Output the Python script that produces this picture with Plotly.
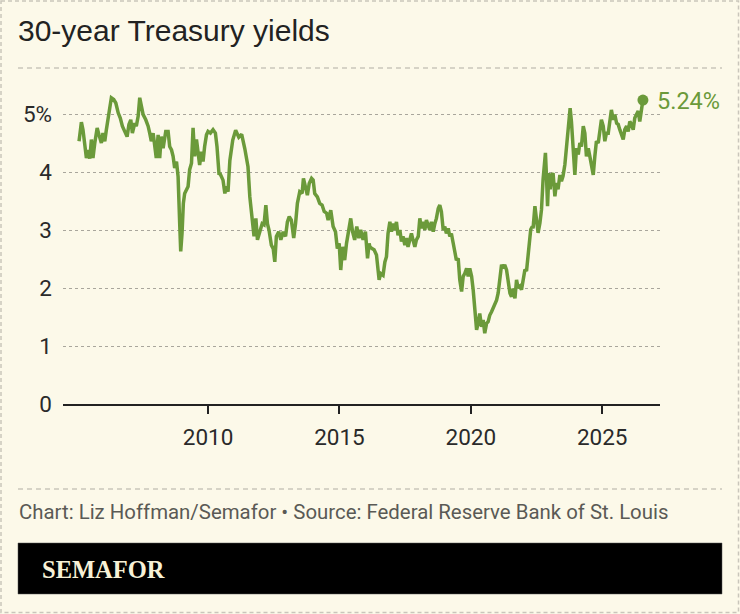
import plotly.graph_objects as go

# ---- Data (decimal year, yield %) ----
years = [
    2005.09, 2005.18, 2005.24, 2005.31, 2005.37, 2005.43, 2005.50, 2005.56, 2005.62, 2005.69,
    2005.78, 2005.85, 2005.94, 2006.00, 2006.07, 2006.13, 2006.23, 2006.32, 2006.41, 2006.49,
    2006.58, 2006.66, 2006.74, 2006.83, 2006.92, 2006.99, 2007.06, 2007.12, 2007.21, 2007.27,
    2007.34, 2007.40, 2007.46, 2007.53, 2007.63, 2007.72, 2007.78, 2007.84, 2007.91, 2007.97,
    2008.03, 2008.10, 2008.16, 2008.22, 2008.29, 2008.39, 2008.48, 2008.54, 2008.61, 2008.67,
    2008.73, 2008.80, 2008.86, 2008.92, 2008.96, 2009.01, 2009.06, 2009.11, 2009.18, 2009.24,
    2009.30, 2009.37, 2009.43, 2009.49, 2009.56, 2009.62, 2009.68, 2009.75, 2009.81, 2009.87,
    2009.94, 2010.00, 2010.09, 2010.19, 2010.28, 2010.34, 2010.42, 2010.45, 2010.57, 2010.64,
    2010.70, 2010.76, 2010.83, 2010.94, 2011.05, 2011.17, 2011.28, 2011.40, 2011.47, 2011.52,
    2011.59, 2011.68, 2011.75, 2011.82, 2011.88, 2011.97, 2012.06, 2012.13, 2012.20, 2012.26,
    2012.32, 2012.41, 2012.48, 2012.54, 2012.60, 2012.69, 2012.77, 2012.86, 2012.95, 2013.02,
    2013.09, 2013.17, 2013.26, 2013.33, 2013.40, 2013.49, 2013.58, 2013.63, 2013.71, 2013.78,
    2013.85, 2013.94, 2014.00, 2014.06, 2014.16, 2014.25, 2014.34, 2014.42, 2014.51, 2014.57,
    2014.67, 2014.76, 2014.85, 2014.92, 2014.99, 2015.05, 2015.12, 2015.20, 2015.27, 2015.36,
    2015.43, 2015.50, 2015.58, 2015.66, 2015.74, 2015.81, 2015.90, 2015.99, 2016.07, 2016.13,
    2016.16, 2016.24, 2016.32, 2016.41, 2016.47, 2016.51, 2016.57, 2016.66, 2016.73, 2016.79,
    2016.85, 2016.92, 2016.98, 2017.04, 2017.11, 2017.17, 2017.23, 2017.30, 2017.36, 2017.42,
    2017.49, 2017.55, 2017.61, 2017.68, 2017.74, 2017.80, 2017.87, 2017.93, 2018.00, 2018.06,
    2018.12, 2018.19, 2018.25, 2018.31, 2018.38, 2018.44, 2018.50, 2018.57, 2018.63, 2018.69,
    2018.76, 2018.82, 2018.88, 2018.95, 2019.01, 2019.07, 2019.14, 2019.20, 2019.26, 2019.33,
    2019.39, 2019.45, 2019.52, 2019.58, 2019.65, 2019.71, 2019.77, 2019.84, 2019.90, 2019.96,
    2020.03, 2020.09, 2020.15, 2020.22, 2020.28, 2020.34, 2020.41, 2020.47, 2020.53, 2020.60,
    2020.66, 2020.72, 2020.79, 2020.85, 2020.91, 2020.98, 2021.04, 2021.10, 2021.17, 2021.23,
    2021.29, 2021.36, 2021.42, 2021.49, 2021.55, 2021.61, 2021.68, 2021.74, 2021.80, 2021.87,
    2021.93, 2021.99, 2022.06, 2022.12, 2022.18, 2022.25, 2022.28, 2022.34, 2022.37, 2022.44,
    2022.50, 2022.56, 2022.63, 2022.69, 2022.75, 2022.79, 2022.84, 2022.88, 2022.92, 2022.97,
    2023.02, 2023.07, 2023.13, 2023.20, 2023.26, 2023.32, 2023.39, 2023.45, 2023.51, 2023.58,
    2023.64, 2023.68, 2023.73, 2023.78, 2023.83, 2023.87, 2023.92, 2023.96, 2024.02, 2024.09,
    2024.15, 2024.21, 2024.28, 2024.34, 2024.40, 2024.47, 2024.53, 2024.59, 2024.66, 2024.72,
    2024.78, 2024.85, 2024.91, 2024.97, 2025.04, 2025.10, 2025.16, 2025.23, 2025.29, 2025.35,
    2025.42, 2025.48, 2025.55, 2025.61, 2025.67, 2025.74, 2025.80, 2025.86, 2025.93, 2025.99,
    2026.05, 2026.12, 2026.18, 2026.24, 2026.31, 2026.37, 2026.43, 2026.50, 2026.55,
]
yields = [
    4.53, 4.86, 4.73, 4.50, 4.24, 4.38, 4.23, 4.56, 4.24, 4.50,
    4.76, 4.64, 4.50, 4.67, 4.53, 4.73, 5.07, 5.28, 5.25, 5.19,
    5.02, 4.93, 4.79, 4.70, 4.61, 4.82, 4.90, 4.67, 4.84, 4.79,
    4.96, 5.28, 5.16, 4.99, 4.90, 4.79, 4.67, 4.53, 4.67, 4.38,
    4.24, 4.64, 4.24, 4.61, 4.41, 4.70, 4.70, 4.44, 4.38, 4.27,
    4.07, 4.18, 3.92, 3.12, 2.63, 2.94, 3.46, 3.63, 3.69, 3.75,
    4.04, 4.15, 4.76, 4.27, 4.56, 4.27, 4.12, 4.35, 4.18, 4.44,
    4.64, 4.70, 4.67, 4.73, 4.67, 4.44, 3.95, 3.98, 3.86, 3.63,
    3.75, 3.66, 4.20, 4.55, 4.72, 4.60, 4.65, 4.40, 4.25, 4.09,
    3.57, 3.23, 2.89, 3.20, 2.83, 2.97, 3.11, 3.09, 3.43, 3.11,
    3.00, 2.74, 2.68, 2.45, 2.89, 2.97, 2.83, 2.97, 2.89, 3.14,
    3.23, 3.17, 2.86, 3.11, 3.46, 3.66, 3.63, 3.89, 3.75, 3.60,
    3.80, 3.89, 3.86, 3.63, 3.57, 3.46, 3.43, 3.32, 3.29, 3.17,
    3.34, 3.06, 2.97, 2.68, 2.77, 2.31, 2.71, 2.48, 2.77, 3.00,
    3.20, 2.97, 2.83, 3.06, 2.86, 3.00, 2.83, 2.97, 2.51, 2.77,
    2.71, 2.68, 2.66, 2.57, 2.34, 2.14, 2.25, 2.22, 2.45, 2.54,
    2.94, 3.14, 2.97, 3.11, 3.00, 3.14, 2.91, 3.00, 2.80, 2.89,
    2.74, 2.86, 2.71, 2.83, 2.94, 2.83, 2.71, 2.83, 2.89, 3.20,
    3.03, 3.14, 3.00, 3.17, 3.06, 3.00, 3.14, 2.97, 3.11, 3.20,
    3.37, 3.43, 3.32, 3.00, 3.06, 2.94, 3.03, 2.89, 2.94, 2.80,
    2.63, 2.48, 2.51, 2.14, 1.94, 2.20, 2.25, 2.34, 2.20, 2.34,
    2.20, 1.97, 1.62, 1.28, 1.39, 1.56, 1.33, 1.45, 1.22, 1.39,
    1.42, 1.53, 1.59, 1.65, 1.74, 1.79, 1.91, 2.14, 2.40, 2.34,
    2.40, 2.31, 2.08, 1.91, 1.85, 1.99, 1.82, 2.14, 2.00, 2.03,
    1.97, 2.11, 2.32, 2.29, 2.55, 2.78, 3.01, 3.06, 3.03, 3.41,
    3.21, 2.95, 3.12, 3.35, 3.87, 4.18, 4.33, 3.93, 3.41, 3.98,
    3.70, 3.93, 3.98, 3.58, 3.81, 3.70, 3.95, 3.84, 3.93, 4.13,
    4.39, 4.67, 4.90, 5.10, 4.87, 4.56, 4.21, 3.95, 4.41, 4.30,
    4.50, 4.44, 4.79, 4.67, 4.27, 4.41, 4.27, 4.13, 3.95, 4.27,
    4.53, 4.50, 4.67, 4.90, 4.79, 4.53, 4.67, 4.67, 4.87, 5.07,
    4.90, 4.99, 4.84, 4.82, 4.73, 4.61, 4.56, 4.73, 4.79, 4.70,
    4.87, 4.82, 4.73, 4.93, 4.99, 5.05, 4.87, 5.13, 5.24,
]
x_ticks = [2010, 2015, 2020, 2025]
x_tick_labels = ["2010", "2015", "2020", "2025"]
y_ticks = [0, 1, 2, 3, 4, 5]
y_tick_labels = ["0", "1", "2", "3", "4", "5%"]

title_text = "30-year Treasury yields"
source_text = "Chart: Liz Hoffman/Semafor \u2022 Source: Federal Reserve Bank of St. Louis"
brand_text = "SEMAFOR"
last_label = f"{yields[-1]:.2f}%"

# ---- Styling / layout constants ----
W, H = 740, 614
ML, MR, MT, MB = 63, 80, 80, 210
PW, PH = W - ML - MR, H - MT - MB
BG = "#fcf9e9"
GREEN = "#6b9a3a"
DASH_GRAY = "#c9c6bb"


def px(xp):
    return (xp - ML) / PW


def py(yp):
    return (H - MB - yp) / PH


fig = go.Figure()
fig.add_trace(go.Scatter(
    x=years, y=yields, mode="lines",
    line=dict(color=GREEN, width=3.5), hoverinfo="skip", showlegend=False,
))
fig.add_trace(go.Scatter(
    x=[years[-1]], y=[yields[-1]], mode="markers",
    marker=dict(color=GREEN, size=11), hoverinfo="skip", showlegend=False,
))

shapes = [
    # outer dashed border
    dict(type="rect", xref="paper", yref="paper", x0=px(1), x1=px(738.5), y0=py(1), y1=py(612.5),
         line=dict(color=DASH_GRAY, width=1.5, dash="4px,3px"), layer="below"),
    # line under the title
    dict(type="line", xref="paper", yref="paper", x0=px(18), x1=px(722), y0=py(68), y1=py(68),
         line=dict(color=DASH_GRAY, width=1.3, dash="5px,4px")),
    # line above the footer
    dict(type="line", xref="paper", yref="paper", x0=px(18), x1=px(722), y0=py(489), y1=py(489),
         line=dict(color=DASH_GRAY, width=1.3, dash="5px,4px")),
    # black brand band
    dict(type="rect", xref="paper", yref="paper", x0=px(18), x1=px(722), y0=py(594), y1=py(543),
         fillcolor="#000000", line=dict(color="#555555", width=0.5)),
]

annotations = [
    dict(text=title_text, xref="paper", yref="paper", x=px(16), y=py(49), xanchor="left", yanchor="bottom",
         showarrow=False, font=dict(family="Liberation Sans, Arial", size=30, color="#222222")),
    dict(text=last_label, xref="x", yref="y", x=years[-1], y=yields[-1], xanchor="left", yanchor="middle",
         xshift=12, yshift=-1, showarrow=False, font=dict(family="Roboto", size=23.5, color=GREEN)),
    dict(text=source_text, xref="paper", yref="paper", x=px(17), y=py(512), xanchor="left", yanchor="middle",
         showarrow=False, font=dict(family="Roboto", size=20.4, color="#5a5a55")),
    dict(text="<b>" + brand_text + "</b>", xref="paper", yref="paper", x=px(40), y=py(569), xanchor="left",
         yanchor="middle", showarrow=False,
         font=dict(family="Liberation Serif, Times New Roman, serif", size=24.5, color="#f7f1d6")),
]

fig.update_layout(
    width=W, height=H, paper_bgcolor=BG, plot_bgcolor=BG,
    margin=dict(l=ML, r=MR, t=MT, b=MB, pad=0),
    shapes=shapes, annotations=annotations, showlegend=False,
    xaxis=dict(
        range=[2004.48, 2027.2], tickmode="array", tickvals=x_ticks, ticktext=x_tick_labels,
        showgrid=False, zeroline=False, showline=True, linecolor="#222222", linewidth=1.5,
        ticks="outside", ticklen=8, tickwidth=1.5, tickcolor="#222222",
        tickfont=dict(family="Roboto", size=22.5, color="#2a2a2a"), ticklabelstandoff=4,
        fixedrange=True,
    ),
    yaxis=dict(
        range=[0, PH / 58.0], tickmode="array", tickvals=y_ticks, ticktext=y_tick_labels,
        showgrid=True, gridcolor="#a9a69c", gridwidth=1, griddash="3px,3px",
        zeroline=False, showline=False, ticks="",
        tickfont=dict(family="Roboto", size=22.5, color="#2a2a2a"), ticklabelstandoff=10,
        fixedrange=True,
    ),
)

fig.write_html("out.html")
